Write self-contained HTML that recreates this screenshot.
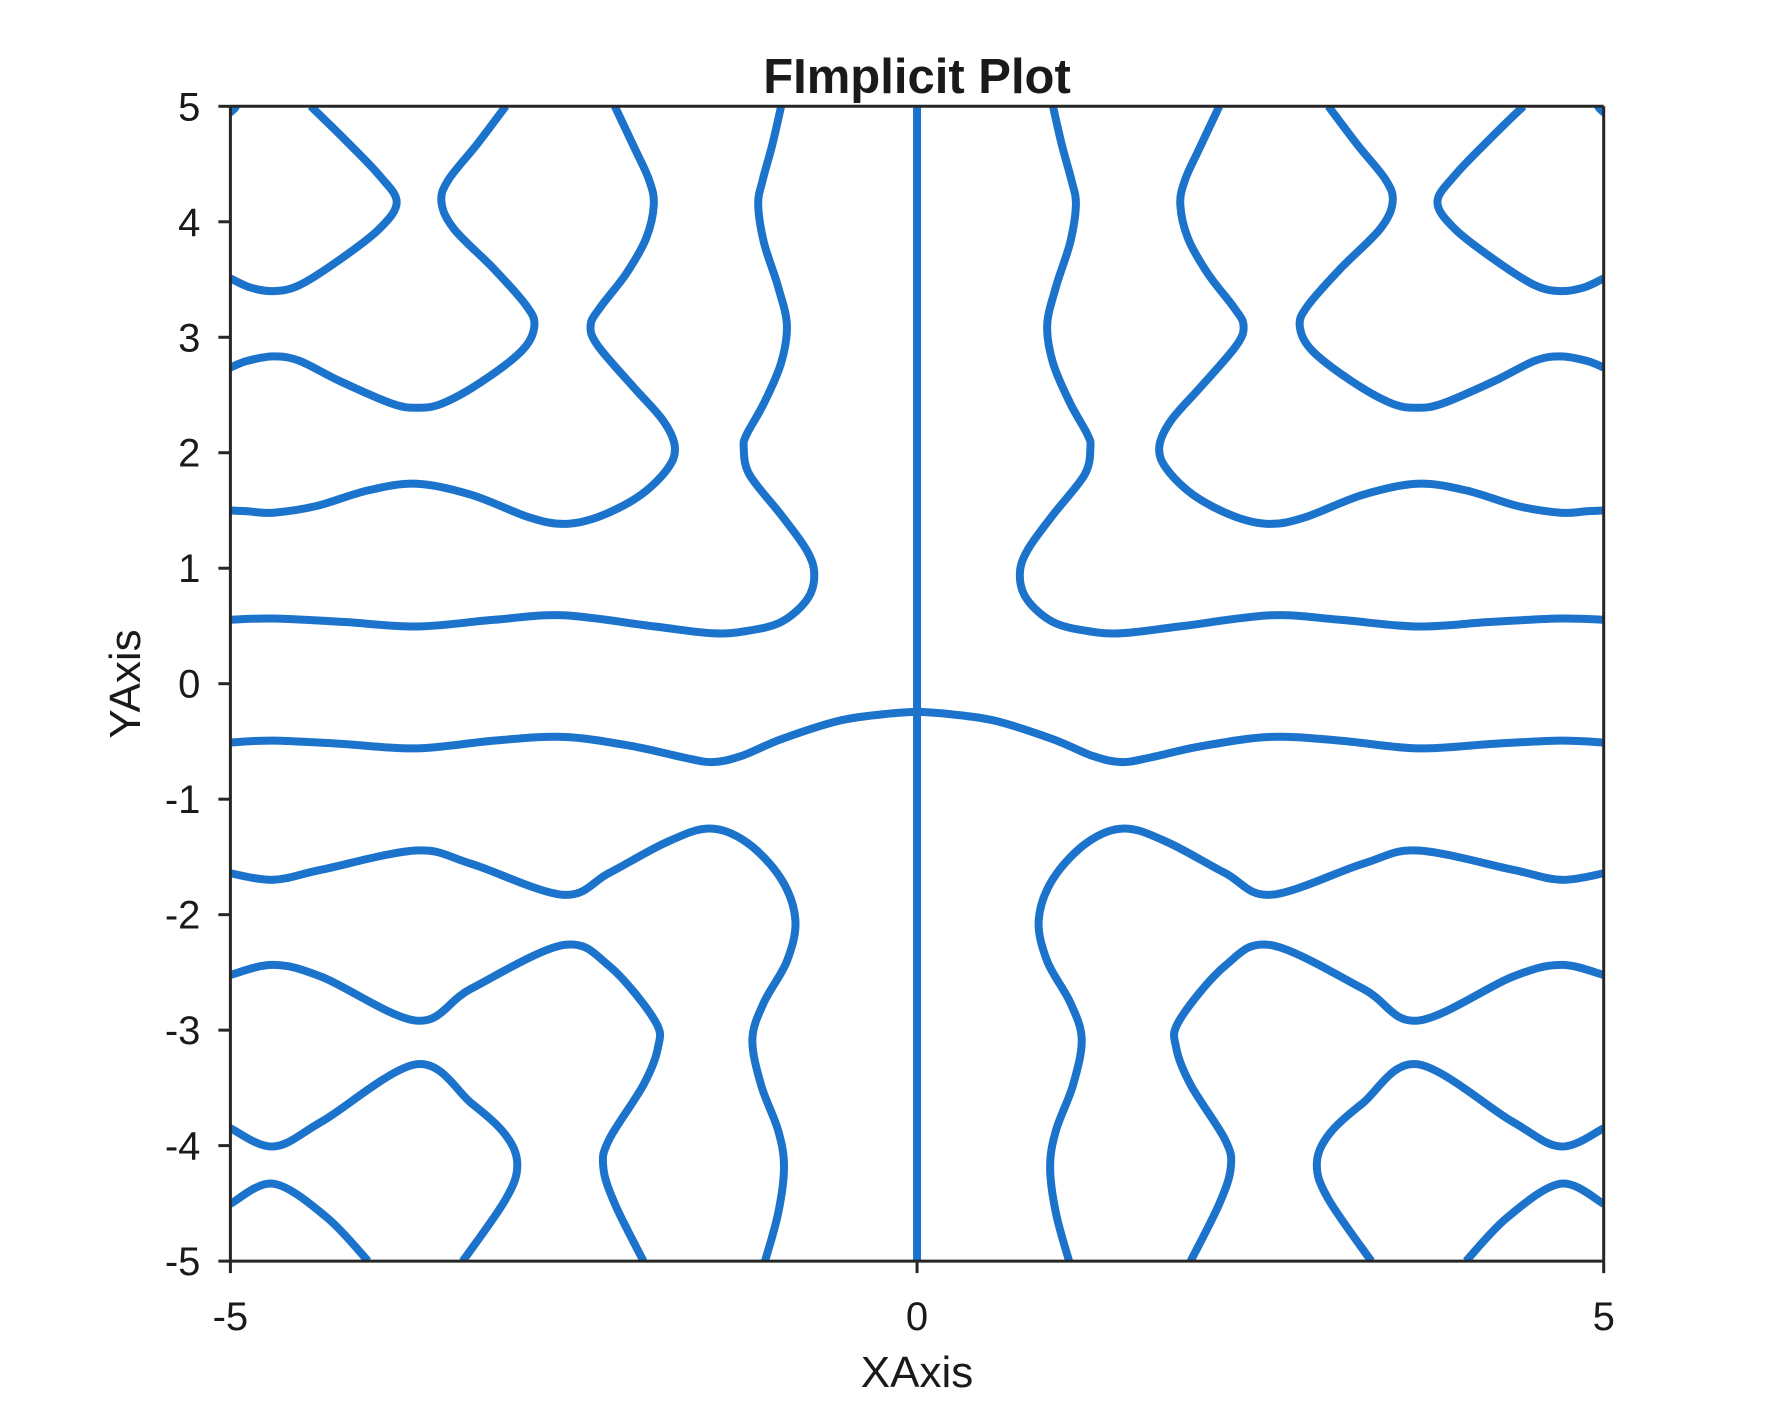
<!DOCTYPE html>
<html><head><meta charset="utf-8"><style>
html,body{margin:0;padding:0;background:#fff;}
svg{display:block;}
text{font-family:"Liberation Sans",Arial,sans-serif;fill:#1a1a1a;}
</style></head><body>
<svg id="chart" width="1772" height="1417" viewBox="0 0 1772 1417" xmlns="http://www.w3.org/2000/svg">
<defs><clipPath id="clip"><rect x="230.4" y="106.3" width="1373.3" height="1154.8"/></clipPath></defs>
<rect x="230.4" y="106.3" width="1373.3" height="1154.8" fill="#fff"/>
<g id="curves" clip-path="url(#clip)"></g>
<g id="axes"></g>
<text x="917" y="93" text-anchor="middle" font-size="49" font-weight="bold">FImplicit Plot</text>
<text x="917" y="1387" text-anchor="middle" font-size="44">XAxis</text>
<text x="140" y="684" text-anchor="middle" font-size="44" transform="rotate(-90 140 684)">YAxis</text>
</svg>
<script>
const xTicks = [-5, 0, 5];
const yTicks = [-5, -4, -3, -2, -1, 0, 1, 2, 3, 4, 5];
// left-half curves (x,y data pairs); right half is mirror image
const curveA = [[-5.02,4.93],[-4.97,4.98],[-4.95,5.02]];
const curveB = [[-4.415,5],[-4.165,4.71],[-3.914,4.40],[-3.789,4.17],[-3.914,3.94],[-4.206,3.67],[-4.499,3.45],[-4.687,3.40],[-4.854,3.43],[-5,3.51]];
const curveC = [[-2.995,5],[-3.204,4.671],[-3.413,4.362],[-3.463,4.169],[-3.371,3.937],[-3.079,3.589],[-2.849,3.279],[-2.786,3.105],[-2.870,2.893],[-3.162,2.622],[-3.454,2.428],[-3.642,2.390],[-3.830,2.428],[-4.206,2.622],[-4.499,2.796],[-4.687,2.834],[-4.875,2.796],[-5,2.738]];
const curveD = [[-2.201,5],[-2.055,4.633],[-1.951,4.362],[-1.917,4.149],[-1.972,3.859],[-2.118,3.550],[-2.306,3.260],[-2.377,3.105],[-2.327,2.931],[-2.076,2.583],[-1.846,2.274],[-1.763,2.042],[-1.825,1.848],[-2.034,1.616],[-2.327,1.442],[-2.577,1.384],[-2.828,1.442],[-3.246,1.636],[-3.642,1.732],[-3.997,1.674],[-4.373,1.539],[-4.687,1.481],[-4.875,1.493],[-5,1.500]];
const curveE = [[-0.990,5],[-1.053,4.671],[-1.124,4.362],[-1.157,4.149],[-1.115,3.821],[-1.011,3.434],[-0.948,3.105],[-0.990,2.777],[-1.115,2.428],[-1.241,2.158],[-1.262,2.042],[-1.220,1.810],[-0.990,1.462],[-0.802,1.152],[-0.748,0.940],[-0.802,0.727],[-0.990,0.534],[-1.241,0.456],[-1.491,0.437],[-1.909,0.495],[-2.577,0.592],[-3.079,0.553],[-3.642,0.495],[-4.165,0.534],[-4.687,0.565],[-5,0.553]];
const curveF = [[-5,-0.509],[-4.687,-0.493],[-4.206,-0.520],[-3.642,-0.560],[-3.079,-0.493],[-2.577,-0.461],[-2.076,-0.540],[-1.700,-0.639],[-1.491,-0.679],[-1.282,-0.627],[-0.990,-0.481],[-0.572,-0.322],[-0.238,-0.263],[-0.02,-0.243]];
const curveG = [[-5,-1.642],[-4.687,-1.698],[-4.332,-1.610],[-3.642,-1.444],[-3.246,-1.560],[-2.577,-1.828],[-2.243,-1.640],[-1.825,-1.373],[-1.512,-1.254],[-1.241,-1.373],[-0.990,-1.690],[-0.886,-2.046],[-0.948,-2.403],[-1.115,-2.760],[-1.199,-3.077],[-1.136,-3.473],[-1.011,-3.870],[-0.969,-4.187],[-1.011,-4.583],[-1.107,-5]];
const curveH = [[-5,-2.522],[-4.687,-2.435],[-4.332,-2.540],[-3.642,-2.918],[-3.246,-2.640],[-2.577,-2.264],[-2.243,-2.443],[-1.909,-2.918],[-1.888,-3.156],[-1.992,-3.473],[-2.243,-3.949],[-2.285,-4.187],[-2.201,-4.504],[-1.992,-5]];
const curveI = [[-5,-3.850],[-4.687,-4.008],[-4.332,-3.790],[-3.642,-3.295],[-3.246,-3.632],[-2.995,-3.909],[-2.911,-4.167],[-2.995,-4.464],[-3.308,-5]];
const curveJ = [[-5,-4.504],[-4.687,-4.330],[-4.300,-4.620],[-3.997,-5]];
const verticalLineX = [0];

const X0=230.4, X1=1603.7, Y0=106.3, Y1=1261.1;
const sx = v => X0 + (v+5)/10*(X1-X0);
const sy = v => Y1 - (v+5)/10*(Y1-Y0);
const NS="http://www.w3.org/2000/svg";
function pathFrom(pts){
  const p = pts.map(d=>[sx(d[0]),sy(d[1])]);
  let s = "M"+p[0][0].toFixed(1)+","+p[0][1].toFixed(1);
  for(let i=0;i<p.length-1;i++){
    const a=p[i-1]||p[i], b=p[i], c=p[i+1], d=p[i+2]||c;
    const c1=[b[0]+(c[0]-a[0])/6, b[1]+(c[1]-a[1])/6];
    const c2=[c[0]-(d[0]-b[0])/6, c[1]-(d[1]-b[1])/6];
    s+=" C"+c1[0].toFixed(1)+","+c1[1].toFixed(1)+" "+c2[0].toFixed(1)+","+c2[1].toFixed(1)+" "+c[0].toFixed(1)+","+c[1].toFixed(1);
  }
  return s;
}
const cg=document.getElementById("curves");
const curves={A:curveA,B:curveB,C:curveC,D:curveD,E:curveE,F:curveF,G:curveG,H:curveH,I:curveI,J:curveJ};
for(const k in curves){
  for(const side of [1,-1]){
    const pts=curves[k].map(d=>[d[0]*side,d[1]]);
    const el=document.createElementNS(NS,"path");
    el.setAttribute("d",pathFrom(pts));
    el.setAttribute("fill","none");
    el.setAttribute("stroke","#1c73cc");
    el.setAttribute("stroke-width","8");
    el.setAttribute("stroke-linejoin","round");
    
    
    cg.appendChild(el);
  }
}
verticalLineX.forEach(v=>{
  const el=document.createElementNS(NS,"line");
  el.setAttribute("x1",sx(v));el.setAttribute("x2",sx(v));
  el.setAttribute("y1",Y0);el.setAttribute("y2",Y1);
  el.setAttribute("stroke","#1c73cc");el.setAttribute("stroke-width","8");
  
  
  cg.appendChild(el);
});
const ag=document.getElementById("axes");
function line(x1,y1,x2,y2,name){
  const el=document.createElementNS(NS,"line");
  el.setAttribute("x1",x1);el.setAttribute("y1",y1);el.setAttribute("x2",x2);el.setAttribute("y2",y2);
  el.setAttribute("stroke","#262626");el.setAttribute("stroke-width","3");
  
  
  ag.appendChild(el);
}
line(X0,Y0,X1,Y0,"axis-box-top");
line(X1,Y0,X1,Y1,"axis-box-right");
line(X0,Y1,X1,Y1,"x-axis-line");
line(X0,Y0,X0,Y1,"y-axis-line");
xTicks.forEach(v=>{
  line(sx(v),Y1,sx(v),Y1+12,"x-tick");
  const t=document.createElementNS(NS,"text");
  t.setAttribute("x",sx(v));t.setAttribute("y",Y1+69);
  t.setAttribute("text-anchor","middle");t.setAttribute("font-size","40");
  t.textContent=v;
  
  
  ag.appendChild(t);
});
yTicks.forEach(v=>{
  line(X0-12,sy(v),X0,sy(v),"y-tick");
  const t=document.createElementNS(NS,"text");
  t.setAttribute("x",X0-30);t.setAttribute("y",sy(v)+14);
  t.setAttribute("text-anchor","end");t.setAttribute("font-size","40");
  t.textContent=v;
  
  
  ag.appendChild(t);
});
</script>
</body></html>
